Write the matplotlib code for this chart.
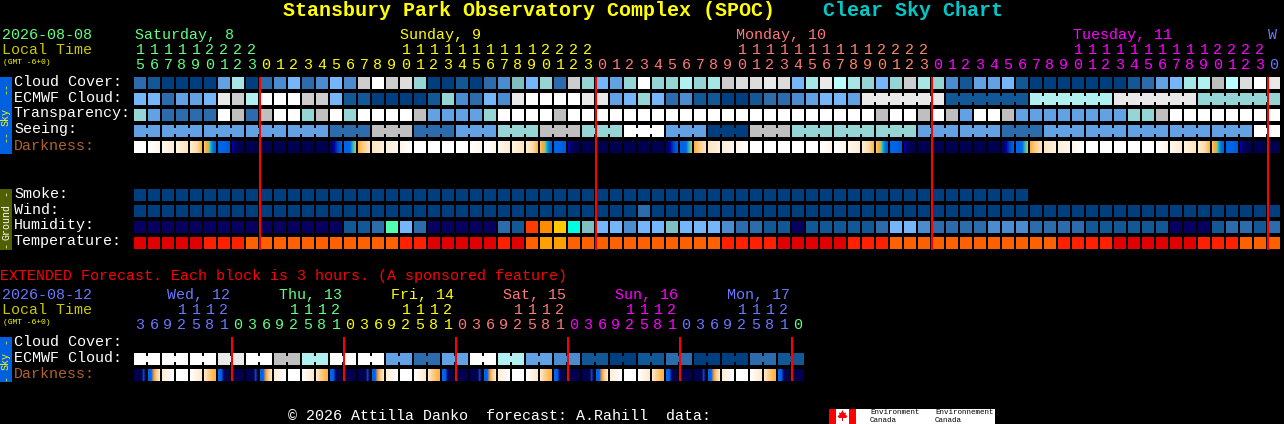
import numpy as np
import matplotlib
matplotlib.use("Agg")
import matplotlib.pyplot as plt
from matplotlib.colors import to_rgb
from matplotlib.patches import Polygon

# ---- cell colours ----
PALETTE = {
    "c0": "#003f7f", "c1": "#135896", "c2": "#2c6cad", "c3": "#4b8cd0", "c4": "#62a2e4",
    "c5": "#75b5fa", "t0": "#7fbfbf", "t1": "#95d5d5", "t2": "#a6e6e6", "t3": "#b0f0f0",
    "t4": "#baffff", "g1": "#bfbfbf", "g2": "#cdcdcd", "g3": "#dcdcdc", "g4": "#e9e9e9",
    "wh": "#ffffff", "nv": "#080060", "gr": "#50ffb0", "r1": "#ff3c00", "o1": "#ff8c00",
    "y1": "#ffc800", "cy": "#00ffe0", "d0": "#e00000", "d1": "#ff2000", "d2": "#ff6000",
    "d3": "#ffa000",
}

DARK_STOPS = {
    "w": ["#ffffff", "#ffffff"],
    "a": ["#ffffff", "#fff6ea"],
    "b": ["#fff9f0", "#ffecd0"],
    "c": ["#fff4e0", "#ffe4bc"],
    "d": ["#ffecd0", "#ffe0b0", "#ffb850"],
    "e": ["#ffc060", "#f0b040", "#a0c860", "#00a8f0", "#0070e0", "#0060e0"],
    "f": ["#0064e8", "#0064e8", "#0058d0"],
    "g": ["#0000a0", "#000060", "#000050", "#000050"],
    "n": ["#000050", "#000050"],
    "h": ["#000060", "#0000a0", "#0048c0", "#0060e0"],
    "i": ["#0064e8", "#0064e8", "#0064e8", "#30b0c0", "#b0c060"],
    "j": ["#ffb040", "#ffd090", "#ffe4c0"],
    "C": ["#ffe4c0", "#fff0dc"],
    "B": ["#ffeed8", "#fff6ea"],
    "A": ["#fff6ea", "#ffffff"],
    "p": ["#000050", "#000050", "#000050", "#000050", "#000050", "#0050c0", "#000050"],
    "q": ["#0064e8", "#0064e8", "#ffa030", "#ffd090", "#ffe8d0"],
    "r": ["#ffeed8", "#ffffff"],
    "s": ["#ffffff", "#ffe8c8"],
    "u": ["#ffe8c8", "#ffc878", "#ffb040"],
    "v": ["#0064e8", "#0064e8", "#000060", "#000050", "#000050"],
}

# ---- main forecast, one value per hour ----
cloud_cover = ("c2 c1 c0 c0 c0 c0 c4 t2 c0 c2 c3 c5 c2 c3 c5 c3 g2 wh g2 g3 t1 "
               "c0 c0 c1 c0 c2 c3 t0 c5 t1 c2 g2 t1 c5 c4 t1 wh t1 t1 t3 t1 t2 g2 g3 g3 g4 g3 c5 t2 g4 t4 t2 "
               "t1 c5 t1 g2 t2 t1 c3 c1 c4 c4 c5 c1 c0 c0 c0 c0 c0 c0 c0 c1 c2 c4 c5 t2 t3 g1 t4 g3 wh g4").split()
ecmwf_cloud = ("c5 c5 c2 c4 c4 c5 g4 g2 t3 wh wh wh g2 g2 c5 c1 c1 c0 c0 c0 c0 "
               "c1 t1 c3 c2 c5 c3 g4 wh wh wh wh g4 g4 c4 c5 t1 c5 c2 c3 c1 c1 c0 c0 c1 c2 c2 c3 c4 c5 c5 c4 "
               "g4 g4 g4 g4 g4 g4 c1 c1 c1 c1 c1 c1 t3 t3 t3 t3 t3 t3 g4 g4 g4 g4 g4 g4 t1 t1 t1 t1 t1 t1").split()
transparency = ("t1 c4 c2 c2 c2 c2 wh g1 c2 g1 wh wh t1 g1 wh t1 wh wh wh wh g1 "
                "c4 c4 c4 c4 t1 wh wh wh wh g1 wh wh wh wh wh wh wh wh wh wh wh wh wh wh wh wh wh wh wh wh wh "
                "wh g1 wh wh g1 wh g1 c4 wh wh g1 c4 c4 c4 c4 c4 c4 c4 c4 t1 t1 g1 wh wh wh wh wh wh wh wh").split()
seeing_values = ["c4", "c4", "c4", "c4", "c4", "c2", "g1", "c2", "c4", "t1", "g1", "t1", "wh", "c4",
                 "c0", "g1", "t1", "t1", "t1", "c4", "c4", "c2", "c4", "c4", "c4", "c4", "c4", "wh"]
seeing_groups = [2] + [3] * 26 + [2]
darkness = ("w a b c d e f g n n n n n n h i j C B A w w w w "
            "a a b c d e f g n n n n n n h i j C B A w w w w w "
            "a a b d e f g n n n n n n h i j C B A w w w w w a b c d e f g n n").split()
smoke = ["c0"] * 64
wind = ("c0 c0 c0 c0 c0 c0 c0 c0 c0 c0 c0 c0 c0 c0 c0 c0 c0 c0 c0 c0 c0 "
        "c0 c0 c0 c0 c0 c0 c0 c0 c0 c0 c0 c0 c0 c0 c0 c2 c0 c0 c0 c0 c0 c0 c0 c0 c0 c0 c0 c0 c0 c0 c0 "
        "c0 c0 c0 c0 c0 c0 c0 c0 c0 c0 c0 c0 c0 c0 c0 c0 c0 c0 c0 c0 c0 c0 c0 c0 c0 c0 c0 c0 c0 c0").split()
humidity = ("nv nv nv nv nv nv nv nv nv nv nv nv nv nv nv c1 c1 c2 gr c5 c2 "
            "nv nv nv nv nv c2 c1 r1 o1 y1 cy t0 c5 c5 c3 c5 c5 t0 c5 c5 c5 c3 c2 c2 c1 c1 nv c1 c1 c1 c1 "
            "c1 c2 c5 c5 c3 c2 c2 c2 c2 c3 c3 c3 c2 c2 c2 c2 c1 c1 c1 c1 c1 c1 nv nv nv c1 c2 c2 c1 c2").split()
temperature = ("d0 d0 d0 d0 d0 d1 d1 d1 d2 d2 d2 d2 d2 d2 d2 d2 d2 d2 d2 d1 d1 "
               "d0 d0 d0 d0 d0 d1 d0 d2 d3 d3 d2 d2 d2 d2 d2 d2 d2 d2 d2 d2 d2 d1 d1 d1 d1 d0 d0 d0 d0 d0 d1 "
               "d1 d1 d2 d2 d2 d2 d2 d2 d2 d2 d2 d2 d2 d2 d1 d1 d1 d1 d0 d0 d0 d0 d0 d0 d1 d1 d1 d2 d2 d2").split()

hour_ones = "567890123" + "012345678901234567890123" * 3 + "0"
hour_tens = "111112222" + "          11111111112222" * 3 + " "
hour_spans = [(0, 9, "#60ff80"), (9, 33, "#ffff00"), (33, 50, "#ff7878"), (50, 57, "#ff8868"),
              (57, 81, "#ff00ff"), (81, 82, "#6878ff")]
day_labels = [("Saturday, 8", 135, "#60ff80"), ("Sunday, 9", 400, "#ffff00"), ("Monday, 10", 736, "#ff7878"),
              ("Tuesday, 11", 1073, "#ff00ff"), ("W", 1268, "#6878ff")]
midnight_cols = [9, 33, 57, 81]

# ---- extended forecast, two 3 hour cells per block ----
ext_cloud_values = ["wh", "wh", "wh", "g4", "wh", "g1", "t3", "wh", "wh", "c4", "c2", "c4",
                    "wh", "t3", "c4", "c3", "c1", "c0", "c1", "c2", "c0", "c0", "c2", "c1"]
ext_darkness = list("pqrwsuvn" * 6)
ext_ones = "3692581" + "03692581" * 5 + "0"
ext_tens = "   1112" + "    1112" * 5 + " "
ext_spans = [(0, 7, "#6878ff"), (7, 15, "#60ff80"), (15, 23, "#ffff00"), (23, 31, "#ff7878"),
             (31, 39, "#ff00ff"), (39, 47, "#6878ff"), (47, 48, "#60ff80")]
ext_days = [("Wed, 12", 167, "#6878ff"), ("Thu, 13", 279, "#60ff80"), ("Fri, 14", 391, "#ffff00"),
            ("Sat, 15", 503, "#ff7878"), ("Sun, 16", 615, "#ff00ff"), ("Mon, 17", 727, "#6878ff")]
ext_midnights = [7, 15, 23, 31, 39, 47]

LEFT, STEP, CELL = 134, 14, 12
MONO = "Liberation Mono"
TXT = 10.8  # 15 px em, 9 px per character


def col_x(col):
    return LEFT + STEP * col


def draw_row(ax, top, levels, groups=None):
    xs = [col_x(i) for i in range(len(levels))]
    ax.bar(xs, CELL, width=CELL, bottom=top, align="edge", linewidth=0, antialiased=False,
           color=[PALETTE[v] for v in levels], zorder=2)
    if groups is None:
        return
    # joined blocks keep a small notch top and bottom
    for length, first in groups:
        for col in range(first, first + length - 1):
            ax.bar(col_x(col) + CELL, CELL - 6, width=STEP - CELL, bottom=top + 3, align="edge", linewidth=0,
                   antialiased=False, color=PALETTE[levels[col]], zorder=2)


def block_groups(lengths, first=0):
    out = []
    for length in lengths:
        out.append((length, first))
        first += length
    return out


def expand(values, lengths):
    out = []
    for v, n in zip(values, lengths):
        out.extend([v] * n)
    return out


def draw_darkness(ax, top, codes):
    for i, code in enumerate(codes):
        stops = np.array([to_rgb(c) for c in DARK_STOPS[code]])
        pos = np.linspace(0, 1, len(stops))
        px = np.linspace(0, 1, CELL)
        img = np.stack([np.interp(px, pos, stops[:, k]) for k in range(3)], axis=1)[None, :, :]
        x = col_x(i)
        ax.imshow(img, extent=(x, x + CELL, top + CELL, top), aspect="auto", interpolation="nearest", zorder=2)


def put(ax, x, y, s, color="white", size=TXT, **kw):
    kw.setdefault("ha", "left")
    ax.text(x, y, s, color=color, fontsize=size, family=MONO, va="center", **kw)


def draw_hours(ax, ones, tens, spans, y_tens, y_ones):
    for a, b, color in spans:
        for col in range(a, b):
            cx = col_x(col) + CELL / 2
            put(ax, cx, y_ones, ones[col], color, ha="center")
            if tens[col] != " ":
                put(ax, cx, y_tens, tens[col], color, ha="center")


def strip(ax, top, bottom, color, text_color, label, dash_ys):
    ax.bar(0, bottom - top, width=12, bottom=top, align="edge", color=color, linewidth=0, antialiased=False)
    put(ax, 6, (top + bottom) / 2 + 2, label, text_color, size=7.2, rotation=90, ha="center")
    for y, s in dash_ys:
        put(ax, 6, y, s, text_color, size=7.2, rotation=90, ha="center")


def midnight_lines(ax, cols, top, height):
    # edges sit on whole pixels, so antialiasing keeps the full 2 px
    for col in cols:
        ax.bar(col_x(col) - 1, height, width=2, bottom=top, align="edge", color="#ff0000", linewidth=0,
               antialiased=True, snap=False, zorder=4)


fig = plt.figure(figsize=(12.84, 4.24), dpi=100, facecolor="black")
ax = fig.add_axes([0, 0, 1, 1])
ax.set_facecolor("black")
ax.set_xlim(0, 1284)
ax.set_ylim(424, 0)
ax.set_autoscale_on(False)
ax.axis("off")

# title
ax.text(283, 11, "Stansbury Park Observatory Complex (SPOC)", color="#ffff00", fontsize=14.4, family=MONO,
        weight="bold", va="center")
ax.text(823, 11, "Clear Sky Chart", color="#00c8c8", fontsize=14.4, family=MONO, weight="bold", va="center")

# main header
put(ax, 2, 35, "2026-08-08", "#60ff80")
put(ax, 2, 50, "Local Time", "#c8c800")
put(ax, 3, 62, "(GMT -6+0)", "#ffff00", size=5.8)
for s, x, color in day_labels:
    put(ax, x, 35, s, color)
draw_hours(ax, hour_ones, hour_tens, hour_spans, 50, 65)

# main rows
rows_sky = [("Cloud Cover:", 77), ("ECMWF Cloud:", 93), ("Transparency:", 109), ("Seeing:", 125)]
for s, top in rows_sky:
    put(ax, 14, top + 4.5, s)
put(ax, 14, 145.5, "Darkness:", "#b0622c")
draw_row(ax, 77, cloud_cover)
ecmwf_blocks = block_groups([6] * 5, first=52)
draw_row(ax, 93, ecmwf_cloud, ecmwf_blocks)
draw_row(ax, 109, transparency)
draw_row(ax, 125, expand(seeing_values, seeing_groups), block_groups(seeing_groups))
draw_darkness(ax, 141, darkness)

rows_ground = [("Smoke:", 189), ("Wind:", 205), ("Humidity:", 221), ("Temperature:", 237)]
for s, top in rows_ground:
    put(ax, 14, top + 4.5, s)
draw_row(ax, 189, smoke)
draw_row(ax, 205, wind)
draw_row(ax, 221, humidity)
draw_row(ax, 237, temperature)

midnight_lines(ax, midnight_cols, 77, 173)

strip(ax, 77, 154, "#0060e0", "#ffff00", "Sky", [(88, "--"), (136, "--")])
strip(ax, 189, 250, "#506000", "#ffffff", "Ground", [(193, "-"), (245, "-")])

# extended forecast
put(ax, 0, 276, "EXTENDED Forecast. Each block is 3 hours. (A sponsored feature)", "#ff0000")
put(ax, 2, 295, "2026-08-12", "#6878ff")
put(ax, 2, 310, "Local Time", "#c8c800")
put(ax, 3, 322, "(GMT -6+0)", "#ffff00", size=5.8)
for s, x, color in ext_days:
    put(ax, x, 295, s, color)
draw_hours(ax, ext_ones, ext_tens, ext_spans, 310, 325)

put(ax, 14, 341.5, "Cloud Cover:")
put(ax, 14, 357.5, "ECMWF Cloud:")
put(ax, 14, 373.5, "Darkness:", "#b0622c")
ext_lengths = [2] * 24
draw_row(ax, 353, expand(ext_cloud_values, ext_lengths), block_groups(ext_lengths))
draw_darkness(ax, 369, ext_darkness)
midnight_lines(ax, ext_midnights, 337, 44)
strip(ax, 337, 382, "#0060e0", "#ffff00", "Sky", [(341, "-"), (378, "-")])

# footer and logo
put(ax, 288, 416, "\u00a9 2026 Attilla Danko  forecast: A.Rahill  data:")
ax.bar(829, 15, width=166, bottom=409, align="edge", color="white", linewidth=0, antialiased=False)
ax.bar(829, 15, width=7, bottom=409, align="edge", color="#ff0000", linewidth=0, antialiased=False)
ax.bar(849, 15, width=7, bottom=409, align="edge", color="#ff0000", linewidth=0, antialiased=False)
leaf = [(842.5, 410), (844, 413), (846, 412.5), (845.5, 415), (847.5, 416), (846, 418), (843, 418), (843, 421),
        (842, 421), (842, 418), (839, 418), (837.5, 416), (839.5, 415), (839, 412.5), (841, 413)]
ax.add_patch(Polygon(leaf, closed=True, facecolor="#ff0000", edgecolor="none", zorder=3))
for x, s in [(870, "Environment"), (935, "Environnement")]:
    put(ax, x, 412.5, s, "black", size=5.4, zorder=3)
    put(ax, x, 420.5, "Canada", "black", size=5.4, zorder=3)

fig.savefig("out.png", dpi=100, facecolor="black")
